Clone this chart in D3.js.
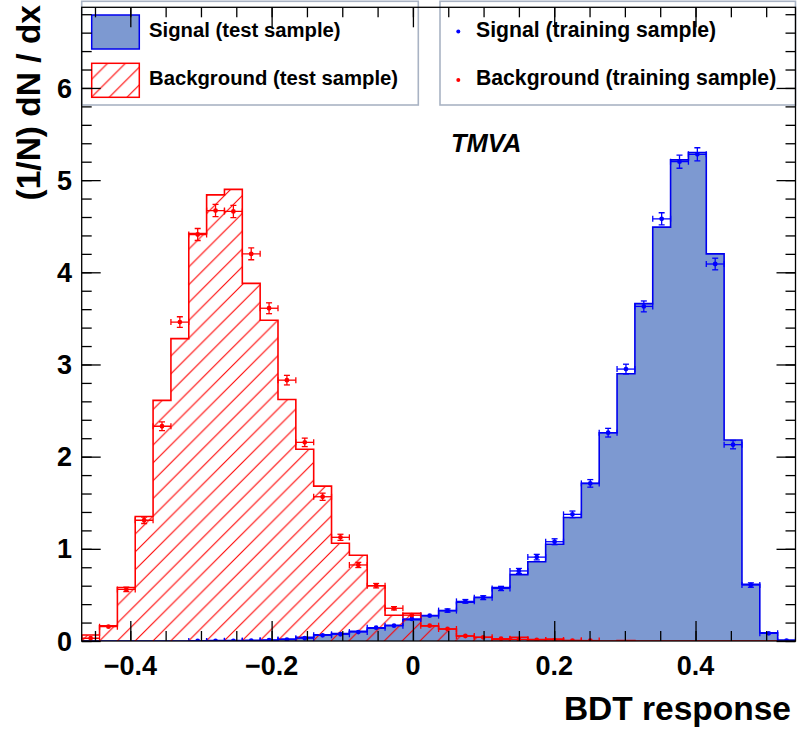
<!DOCTYPE html>
<html>
<head>
<meta charset="utf-8">
<script src="https://cdn.jsdelivr.net/npm/d3@7"></script>
<style>
  html, body { margin: 0; padding: 0; background: #fff; }
  svg { display: block; font-family: "Liberation Sans", Arial, Helvetica, sans-serif; }
</style>
</head>
<body>
<svg id="chart" width="800" height="732"></svg>
<script>
// BDT response histograms: 40 bins, normalised (1/N) dN/dx
const nBins = 40;
const xMin = -0.4688, xMax = 0.5415;

const sigTest = [0, 0, 0, 0, 0, 0, 0.002, 0.004, 0.005, 0.007,
  0.01, 0.02, 0.04, 0.067, 0.08, 0.105, 0.14, 0.17, 0.23, 0.275,
  0.33, 0.42, 0.474, 0.58, 0.72, 0.86, 1.05, 1.34, 1.71, 2.26,
  2.90, 3.66, 4.49, 5.22, 5.30, 4.20, 2.18, 0.615, 0.09, 0.01];

const bkgTest = [0.065, 0.166, 0.58, 1.35, 2.61, 3.28, 4.42, 4.84, 4.90, 3.88,
  3.48, 2.62, 2.08, 1.68, 1.06, 0.93, 0.60, 0.28, 0.30, 0.163,
  0.13, 0.054, 0.04, 0.018, 0.04, 0.015, 0.02, 0.005, 0, 0,
  0.005, 0, 0, 0, 0, 0, 0, 0, 0, 0];

// training samples (null = empty bin, no marker)
const sigTrain = [null, null, null, null, null, null, 0.001, 0.001, 0.002, 0.003,
  0.008, 0.015, 0.03, 0.062, 0.073, 0.097, 0.145, 0.166, 0.24, 0.275,
  0.33, 0.43, 0.47, 0.57, 0.76, 0.91, 1.077, 1.374, 1.71, 2.26,
  2.95, 3.63, 4.58, 5.20, 5.28, 4.09, 2.13, 0.607, 0.083, 0.005];
const sigTrainErr = [0, 0, 0, 0, 0, 0, 0.001, 0.001, 0.001, 0.002,
  0.003, 0.004, 0.005, 0.008, 0.008, 0.01, 0.012, 0.013, 0.015, 0.016,
  0.018, 0.02, 0.021, 0.023, 0.027, 0.03, 0.032, 0.036, 0.041, 0.047,
  0.053, 0.059, 0.066, 0.071, 0.071, 0.063, 0.045, 0.024, 0.009, 0.002];

const bkgTrain = [0.03, 0.155, 0.56, 1.31, 2.33, 3.46, 4.41, 4.67, 4.66, 4.20,
  3.61, 2.83, 2.155, 1.565, 1.125, 0.825, 0.60, 0.355, 0.28, 0.166,
  0.13, 0.054, 0.04, 0.025, 0.018, 0.012, 0.01, 0.005, 0.005, null,
  null, null, null, null, null, null, null, null, null, null];
const bkgTrainErr = [0.005, 0.012, 0.023, 0.035, 0.047, 0.058, 0.065, 0.067, 0.067, 0.064,
  0.059, 0.052, 0.046, 0.039, 0.033, 0.028, 0.024, 0.018, 0.016, 0.013,
  0.011, 0.007, 0.006, 0.005, 0.004, 0.003, 0.003, 0.002, 0.002, 0,
  0, 0, 0, 0, 0, 0, 0, 0, 0, 0];

const xMajorTicks = [-0.4, -0.2, 0, 0.2, 0.4];
const yMajorTicks = [0, 1, 2, 3, 4, 5, 6];

const legendLeft = [
  {label: "Signal (test sample)", kind: "sig"},
  {label: "Background (test sample)", kind: "bkg"}
];
const legendRight = [
  {label: "Signal (training sample)", color: "#0000ff"},
  {label: "Background (training sample)", color: "#ff0000"}
];

const sigFill = "#7d99d1", sigLine = "#0000ee", bkgLine = "#ff0000";

const svg = d3.select("#chart");
const frame = {left: 81.7, right: 795.5, top: 7.3, bottom: 641};

const x = d3.scaleLinear().domain([xMin, xMax]).range([frame.left, frame.right]);
const y = d3.scaleLinear().domain([0, 6.875]).range([frame.bottom, frame.top]);

const binW = (xMax - xMin) / nBins;
const edge = i => xMin + i * binW;
const centre = i => xMin + (i + 0.5) * binW;

// hatch pattern for the background histogram
const defs = svg.append("defs");
const hs = 17.8;
const pat = defs.append("pattern").attr("id", "hatch")
  .attr("patternUnits", "userSpaceOnUse").attr("width", hs).attr("height", hs)
  .attr("x", frame.left).attr("y", frame.bottom);
pat.append("path")
  .attr("d", `M0,${hs} L${hs},0 M${-hs/2},${hs/2} L${hs/2},${-hs/2} M${hs/2},${hs*1.5} L${hs*1.5},${hs/2}`)
  .attr("stroke", bkgLine).attr("stroke-width", 1.1).attr("fill", "none");

defs.append("clipPath").attr("id", "plotclip").append("rect")
  .attr("x", frame.left).attr("y", frame.top)
  .attr("width", frame.right - frame.left).attr("height", frame.bottom - frame.top);

// step outline of a histogram, closed on the baseline
function stepPath(vals) {
  const p = d3.path();
  p.moveTo(x(edge(0)), y(0));
  vals.forEach((v, i) => {
    p.lineTo(x(edge(i)), y(v));
    p.lineTo(x(edge(i + 1)), y(v));
  });
  p.lineTo(x(edge(vals.length)), y(0));
  return p.toString();
}

const plot = svg.append("g").attr("clip-path", "url(#plotclip)");

// signal (test) filled histogram
plot.append("path").attr("d", stepPath(sigTest) + "Z")
  .attr("fill", sigFill).attr("stroke", "none");
plot.append("path").attr("d", stepPath(sigTest))
  .attr("fill", "none").attr("stroke", sigLine).attr("stroke-width", 1.6);

// background (test) hatched histogram
plot.append("path").attr("d", stepPath(bkgTest) + "Z")
  .attr("fill", "url(#hatch)").attr("stroke", "none");
plot.append("path").attr("d", stepPath(bkgTest))
  .attr("fill", "none").attr("stroke", bkgLine).attr("stroke-width", 1.6);

// training samples: markers with error bars
function drawPoints(vals, errs, color) {
  const pts = vals.map((v, i) => ({i, v, e: errs[i]})).filter(d => d.v !== null);
  const g = plot.append("g").attr("stroke", color).attr("fill", color).attr("stroke-width", 1.3);
  const cap = 3;
  pts.forEach(d => {
    const cx = x(centre(d.i)), cy = y(d.v);
    const xl = x(edge(d.i)), xr = x(edge(d.i + 1));
    const yt = y(d.v + d.e), yb = y(Math.max(0, d.v - d.e));
    g.append("line").attr("x1", xl).attr("x2", xr).attr("y1", cy).attr("y2", cy);
    g.append("line").attr("x1", xl).attr("x2", xl).attr("y1", cy - cap).attr("y2", cy + cap);
    g.append("line").attr("x1", xr).attr("x2", xr).attr("y1", cy - cap).attr("y2", cy + cap);
    if (cy - yt > 1.5) {
      g.append("line").attr("x1", cx).attr("x2", cx).attr("y1", yt).attr("y2", yb);
      g.append("line").attr("x1", cx - cap).attr("x2", cx + cap).attr("y1", yt).attr("y2", yt);
      g.append("line").attr("x1", cx - cap).attr("x2", cx + cap).attr("y1", yb).attr("y2", yb);
    }
    g.append("circle").attr("cx", cx).attr("cy", cy).attr("r", 2.4).attr("stroke", "none");
  });
}
drawPoints(sigTrain, sigTrainErr, "#0000ff");
drawPoints(bkgTrain, bkgTrainErr, "#ff0000");

// legends
const legBorder = "#a9b3c4";
const legL = svg.append("g");
legL.append("rect").attr("x", frame.left).attr("y", frame.top - 6)
  .attr("width", 418.3 - frame.left).attr("height", 105 - frame.top + 6)
  .attr("fill", "#fff").attr("stroke", legBorder).attr("stroke-width", 1.6);
legendLeft.forEach((d, k) => {
  const top = k === 0 ? 15 : 63.3;
  legL.append("rect").attr("x", 91.7).attr("y", top).attr("width", 47.6).attr("height", 34)
    .attr("fill", d.kind === "sig" ? sigFill : "url(#hatch)")
    .attr("stroke", d.kind === "sig" ? sigLine : bkgLine).attr("stroke-width", 1.5);
  legL.append("text").attr("x", 149).attr("y", k === 0 ? 36.7 : 85)
    .attr("font-size", 20.3).attr("font-weight", "bold").attr("fill", "#000").text(d.label);
});

const legR = svg.append("g");
legR.append("rect").attr("x", 440).attr("y", frame.top - 6)
  .attr("width", frame.right - 440).attr("height", 105 - frame.top + 6)
  .attr("fill", "#fff").attr("stroke", legBorder).attr("stroke-width", 1.6);
legendRight.forEach((d, k) => {
  const cy = k === 0 ? 31.5 : 80;
  legR.append("circle").attr("cx", 458.3).attr("cy", cy).attr("r", 2).attr("fill", d.color);
  legR.append("text").attr("x", 476).attr("y", k === 0 ? 36.7 : 85)
    .attr("font-size", 21.2).attr("font-weight", "bold").attr("fill", "#000").text(d.label);
});

// ticks on all four sides, pointing inwards
const xMinor = d3.range(-0.45, 0.55, 0.05).map(v => +v.toFixed(2)).filter(v => v >= xMin && v <= xMax);
const yMinor = d3.range(0, 6.875, 0.2).map(v => +v.toFixed(1));
const axes = svg.append("g").attr("stroke", "#000").attr("stroke-width", 1.3);

axes.append("g").attr("transform", `translate(0,${frame.bottom})`)
  .call(d3.axisBottom(x).tickValues(xMinor).tickSize(-10).tickFormat(""));
axes.append("g").attr("transform", `translate(0,${frame.bottom})`)
  .call(d3.axisBottom(x).tickValues(xMajorTicks).tickSize(-20).tickFormat(""));
axes.append("g").attr("transform", `translate(0,${frame.top})`)
  .call(d3.axisTop(x).tickValues(xMinor).tickSize(-10).tickFormat(""));
axes.append("g").attr("transform", `translate(0,${frame.top})`)
  .call(d3.axisTop(x).tickValues(xMajorTicks).tickSize(-20).tickFormat(""));
axes.append("g").attr("transform", `translate(${frame.left},0)`)
  .call(d3.axisLeft(y).tickValues(yMinor).tickSize(-10).tickFormat(""));
axes.append("g").attr("transform", `translate(${frame.left},0)`)
  .call(d3.axisLeft(y).tickValues(yMajorTicks).tickSize(-19).tickFormat(""));
axes.append("g").attr("transform", `translate(${frame.right},0)`)
  .call(d3.axisRight(y).tickValues(yMinor).tickSize(-10).tickFormat(""));
axes.append("g").attr("transform", `translate(${frame.right},0)`)
  .call(d3.axisRight(y).tickValues(yMajorTicks).tickSize(-19).tickFormat(""));
axes.selectAll(".domain").remove();
axes.selectAll(".tick line").attr("stroke", "#000").attr("stroke-width", 1.3);

// frame
svg.append("rect").attr("x", frame.left).attr("y", frame.top)
  .attr("width", frame.right - frame.left).attr("height", frame.bottom - frame.top)
  .attr("fill", "none").attr("stroke", "#000").attr("stroke-width", 1.3);

// tick labels
const fmt = d => d === 0 ? "0" : d3.format(".1f")(d);
svg.append("g").selectAll("text").data(xMajorTicks).join("text")
  .attr("x", d => x(d)).attr("y", 675).attr("text-anchor", "middle")
  .attr("font-size", 27).attr("font-weight", "bold").text(fmt);
svg.append("g").selectAll("text").data(yMajorTicks).join("text")
  .attr("x", 72).attr("y", d => y(d) + 9.6).attr("text-anchor", "end")
  .attr("font-size", 27).attr("font-weight", "bold").text(d => d);

// axis titles
svg.append("text").attr("x", 791).attr("y", 720).attr("text-anchor", "end")
  .attr("font-size", 33.5).attr("font-weight", "bold").text("BDT response");
svg.append("text").attr("transform", "translate(40,5) rotate(-90)").attr("text-anchor", "end")
  .attr("font-size", 33.5).attr("font-weight", "bold").text("(1/N) dN / dx");

// label
svg.append("text").attr("x", 451).attr("y", 152)
  .attr("font-size", 25.5).attr("font-weight", "bold").attr("font-style", "italic").text("TMVA");
</script>
</body>
</html>
